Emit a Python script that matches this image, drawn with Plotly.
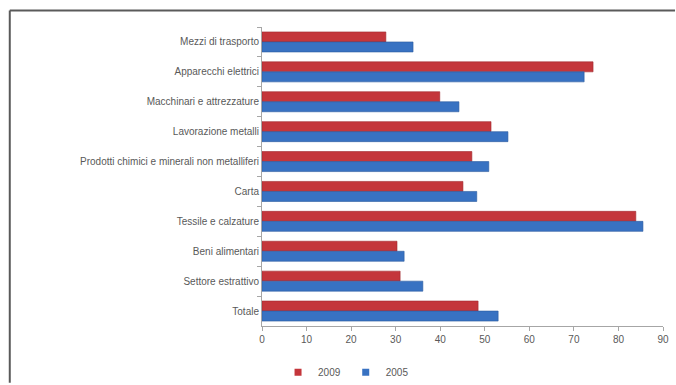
import plotly.graph_objects as go

# Sectors, listed top to bottom as shown on the chart
categories = [
    "Mezzi di trasporto",
    "Apparecchi elettrici",
    "Macchinari e attrezzature",
    "Lavorazione metalli",
    "Prodotti chimici e minerali non metalliferi",
    "Carta",
    "Tessile e calzature",
    "Beni alimentari",
    "Settore estrattivo",
    "Totale",
]
values_2009 = [27.8, 74.3, 39.9, 51.4, 47.1, 45.1, 83.9, 30.3, 31.0, 48.5]
values_2005 = [33.9, 72.3, 44.2, 55.2, 50.9, 48.2, 85.5, 31.9, 36.1, 53.0]
x_ticks = [0, 10, 20, 30, 40, 50, 60, 70, 80, 90]

RED = "#C4363B"
BLUE = "#3872C2"
FONT = "Liberation Sans"

fig = go.Figure()
# With the reversed category axis the first trace sits on top in each group
fig.add_trace(go.Bar(
    y=categories, x=values_2009, orientation="h", name="2009",
    marker=dict(color=RED, line=dict(color="#A02A2F", width=0.6)),
    legendgroup="2009", showlegend=False,
))
fig.add_trace(go.Bar(
    y=categories, x=values_2005, orientation="h", name="2005",
    marker=dict(color=BLUE, line=dict(color="#2A5A9E", width=0.6)),
    legendgroup="2005", showlegend=False,
))
# Small square legend keys for the two series
for name, color in (("2009", RED), ("2005", BLUE)):
    fig.add_trace(go.Scatter(
        x=[None], y=[None], mode="markers", name=name, legendgroup=name,
        marker=dict(symbol="square", size=7, color=color),
        showlegend=True,
    ))

frame = dict(color="#5A5A5A", width=2)
fig.update_layout(
    width=676, height=385,
    margin=dict(l=262, r=13, t=27, b=59, autoexpand=False),
    paper_bgcolor="white", plot_bgcolor="white",
    barmode="group", bargap=0.33, bargroupgap=0.0,
    font=dict(family=FONT, size=10, color="#595959"),
    showlegend=True,
    legend=dict(
        orientation="h", x=0.04, xanchor="left", y=-0.155, yanchor="middle",
        font=dict(size=10, color="#595959"), itemwidth=30,
        bgcolor="rgba(0,0,0,0)", tracegroupgap=0,
    ),
    xaxis=dict(
        range=[0, 90], tickvals=x_ticks, showgrid=False, zeroline=False,
        showline=True, linecolor="#A6A6A6", linewidth=1,
        ticks="outside", ticklen=4, tickcolor="#A6A6A6",
        tickfont=dict(size=10, color="#595959"),
    ),
    yaxis=dict(
        categoryorder="array", categoryarray=categories, autorange="reversed",
        showgrid=False, showline=True, linecolor="#A6A6A6", linewidth=1,
        ticks="outside", ticklen=4, tickcolor="#A6A6A6", tickson="boundaries",
        tickfont=dict(size=10, color="#595959"),
    ),
    shapes=[
        dict(type="line", xref="paper", yref="paper",
             x0=-0.629, x1=-0.629, y0=-0.19, y1=1.055, line=frame),
        dict(type="line", xref="paper", yref="paper",
             x0=-0.629, x1=1.03, y0=1.055, y1=1.055, line=frame),
    ],
)

fig.write_html("out.html")
